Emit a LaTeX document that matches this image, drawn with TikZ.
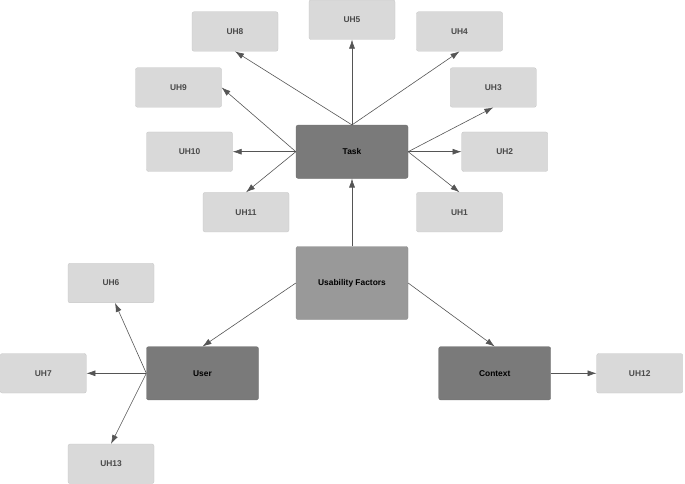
\documentclass[tikz,border=0pt]{standalone}
\usepackage{fontspec}
\setmainfont{Liberation Sans}
\usetikzlibrary{arrows.meta}
\definecolor{lightbox}{HTML}{D9D9D9}
\definecolor{darkbox}{HTML}{7A7A7A}
\definecolor{midbox}{HTML}{999999}
\definecolor{edgecol}{HTML}{555555}
\definecolor{lighttext}{HTML}{4A4A4A}
\tikzset{
  uhbox/.style={fill=lightbox, draw=lightbox!90!black, line width=0.3pt, rounded corners=2pt, minimum width=86pt, minimum height=39.5pt, inner sep=0pt, font=\fontsize{8.4}{9}\selectfont\bfseries, text=lighttext},
  mainbox/.style={fill=darkbox, draw=darkbox!90!black, line width=0.3pt, rounded corners=2pt, minimum width=112pt, minimum height=53.3pt, inner sep=0pt, font=\fontsize{8.4}{9}\selectfont\bfseries, text=black},
  rootbox/.style={fill=midbox, draw=midbox!90!black, line width=0.3pt, rounded corners=2pt, minimum width=112pt, minimum height=73pt, inner sep=0pt, font=\fontsize{8.4}{9}\selectfont\bfseries, text=black},
  conn/.style={draw=edgecol, line width=0.6pt, -{Latex[length=9pt,width=6pt]}}
}
\begin{document}
\begin{tikzpicture}[x=1pt,y=-1pt]
\useasboundingbox (0,0) rectangle (685,484);
% Task cluster
\node[mainbox] (task) at (352,151.7) {Task};
\node[uhbox] (uh8) at (235,31.5) {UH8};
\node[uhbox] (uh5) at (352,19.7) {UH5};
\node[uhbox] (uh4) at (459.5,31.5) {UH4};
\node[uhbox] (uh9) at (178.5,87.5) {UH9};
\node[uhbox] (uh3) at (493.3,87.5) {UH3};
\node[uhbox] (uh10) at (189.5,151.7) {UH10};
\node[uhbox] (uh2) at (504.7,151.7) {UH2};
\node[uhbox] (uh11) at (246,212.2) {UH11};
\node[uhbox] (uh1) at (459.5,212.2) {UH1};
% root
\node[rootbox] (uf) at (352,283) {Usability Factors};
% user
\node[mainbox] (user) at (202.5,373.3) {User};
\node[uhbox] (uh6) at (111,283) {UH6};
\node[uhbox] (uh7) at (43.3,373.3) {UH7};
\node[uhbox] (uh13) at (111,463.8) {UH13};
% context
\node[mainbox] (context) at (494.7,373.3) {Context};
\node[uhbox] (uh12) at (639.7,373.3) {UH12};
% connectors
\draw[conn] (task.north) -- (uh8.south);
\draw[conn] (task.north) -- (uh5.south);
\draw[conn] (task.north) -- (uh4.south);
\draw[conn] (task.west) -- (uh9.east);
\draw[conn] (task.west) -- (uh10.east);
\draw[conn] (task.west) -- (uh11.north);
\draw[conn] (task.east) -- (uh3.south);
\draw[conn] (task.east) -- (uh2.west);
\draw[conn] (task.east) -- (uh1.north);
\draw[conn] (uf.north) -- (task.south);
\draw[conn] (uf.west) -- (user.north);
\draw[conn] (uf.east) -- (context.north);
\draw[conn] (user.west) -- ([xshift=4pt]uh6.south);
\draw[conn] (user.west) -- (uh7.east);
\draw[conn] (user.west) -- (uh13.north);
\draw[conn] (context.east) -- (uh12.west);
\end{tikzpicture}
\end{document}
